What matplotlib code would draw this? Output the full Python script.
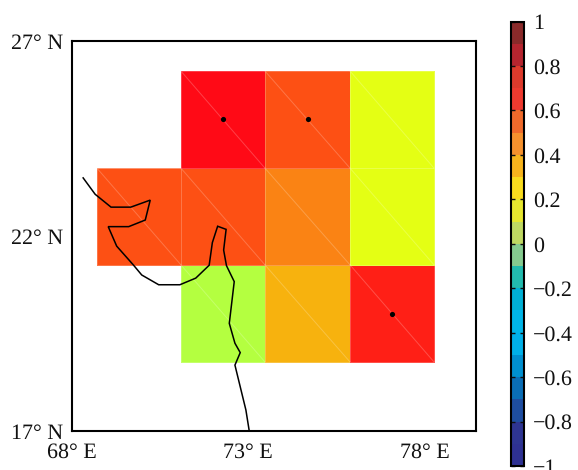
import numpy as np
import matplotlib
matplotlib.use("Agg")
import matplotlib.pyplot as plt
from matplotlib.colors import ListedColormap, BoundaryNorm
from matplotlib.cm import ScalarMappable

plt.rcParams['font.family'] = ['Liberation Serif', 'DejaVu Serif']
plt.rcParams['text.hinting'] = 'none'
plt.rcParams['text.hinting_factor'] = 1

# Data
lon_edges = [68.72, 71.10, 73.48, 75.89, 78.27]
lat_edges = [18.77, 21.26, 23.74, 26.23]
values = [
    [np.nan, 0.05, 0.35, 0.65],
    [0.55, 0.55, 0.45, 0.15],
    [np.nan, 0.75, 0.55, 0.15],
]
sig_lon = [72.29, 74.70, 77.08]
sig_lat = [25.0, 25.0, 20.0]
coast_lon = [68.33, 68.67, 69.12, 69.68, 70.23, 70.09, 69.62, 69.04, 69.28, 69.75, 69.99, 70.47,
             71.07, 71.52, 71.90, 71.99, 72.14, 72.38, 72.31, 72.39, 72.61, 72.47, 72.63, 72.78,
             72.63, 72.94, 73.03]
coast_lat = [23.49, 23.07, 22.74, 22.74, 22.92, 22.41, 22.24, 22.24, 21.74, 21.26, 21.00, 20.75,
             20.75, 20.92, 21.25, 21.83, 22.25, 22.17, 21.64, 21.24, 20.83, 19.76, 19.25, 19.01,
             18.69, 17.54, 17.03]
levels = np.round(np.arange(-1, 1.01, 0.1), 1)
map_colors = ['#2E3192', '#2E3592', '#1E4DA0', '#0A6DB5', '#008FCF', '#00B0E8', '#00B5E8', '#00B0D5',
              '#22BBAE', '#85CB8F', '#B4FF40', '#E4FF14', '#FFE014', '#F7B20E', '#FA8314', '#FD5014',
              '#FF1F16', '#FF0A16', '#B5252F', '#8A2A2A']
bar_colors = ['#2E3192', '#2E3592', '#1E4DA0', '#0A6DB5', '#008FCF', '#00B0E8', '#00B5E8', '#00B0D5',
              '#22BBAE', '#85CB8F', '#BFD862', '#E6E62F', '#F9DC1E', '#F7B41D', '#F5912D', '#EF6A2B',
              '#EE3A2F', '#DD3A2C', '#B5252F', '#8A2A2A']
lon_ticks = [68, 73, 78]
lat_ticks = [17, 22, 27]
cbar_ticks = [-1, -0.8, -0.6, -0.4, -0.2, 0, 0.2, 0.4, 0.6, 0.8, 1]
cbar_labels = ['\u22121', '\u22120.8', '\u22120.6', '\u22120.4', '\u22120.2', '0', '0.2', '0.4', '0.6', '0.8', '1']

W, H = 578, 470
fig = plt.figure(figsize=(W / 100, H / 100), dpi=100)
ax = fig.add_axes([71.5 / W, 1 - 431 / H, 404.5 / W, 390 / H])
norm = BoundaryNorm(levels, 20)
ax.pcolormesh(lon_edges, lat_edges, np.ma.masked_invalid(values),
              cmap=ListedColormap(map_colors), norm=norm,
              edgecolors=(1, 1, 1, 0.22), linewidth=0.7)
for j in range(len(lat_edges) - 1):
    for i in range(len(lon_edges) - 1):
        if np.isfinite(values[j][i]):
            ax.plot([lon_edges[i], lon_edges[i + 1]], [lat_edges[j + 1], lat_edges[j]],
                    color='white', alpha=0.22, lw=0.7, zorder=2)
ax.plot(coast_lon, coast_lat, color='black', lw=1.1, zorder=3, solid_joinstyle='miter')
ax.scatter(sig_lon, sig_lat, s=14, color='black', zorder=4, linewidths=0)
ax.set_xlim(68, 68 + 404.5 / 35.3)
ax.set_ylim(17, 27)
ax.set_xticks(lon_ticks)
ax.set_xticklabels([f'{v}\u00b0 E' for v in lon_ticks])
ax.set_yticks(lat_ticks)
ax.set_yticklabels([f'{v}\u00b0 N' for v in lat_ticks])
ax.tick_params(length=0, labelsize=15.5, colors='#111111')
ax.tick_params(axis='x', pad=8.5)
ax.tick_params(axis='y', pad=6)
for s in ax.spines.values():
    s.set_linewidth(1.5)

cax = fig.add_axes([511 / W, 1 - 466 / H, 12.5 / W, 444.5 / H])
sm = ScalarMappable(norm=norm, cmap=ListedColormap(bar_colors))
cb = fig.colorbar(sm, cax=cax, ticks=cbar_ticks, spacing='proportional', drawedges=False)
cb.ax.set_yticklabels(cbar_labels)
cb.ax.tick_params(which='major', direction='in', left=True, right=True, length=3.2, width=1.0,
                  labelsize=15.5, pad=7, colors='#111111')
cb.ax.minorticks_off()
cb.outline.set_linewidth(1.5)

fig.savefig('out.png', dpi=100)
